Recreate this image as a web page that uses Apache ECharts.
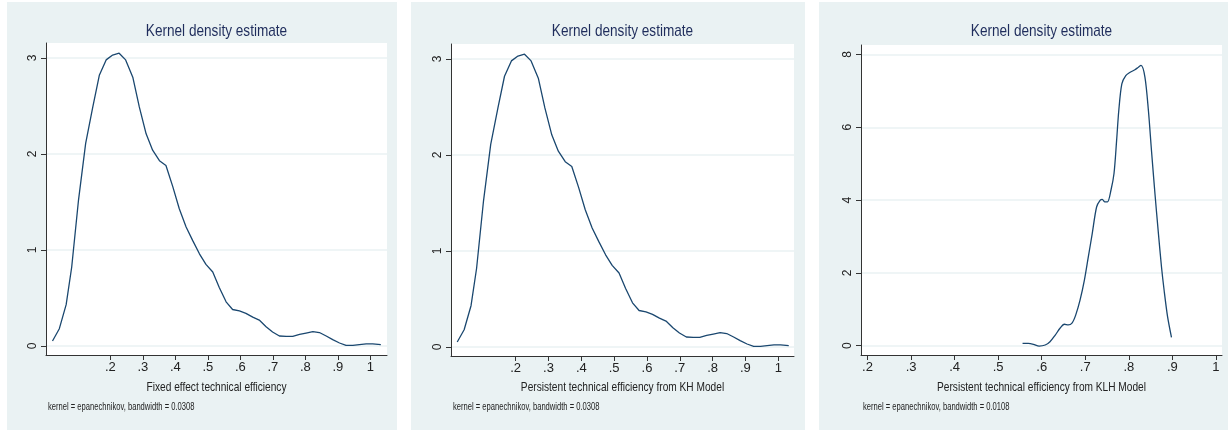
<!DOCTYPE html>
<html>
<head>
<meta charset="utf-8">
<script src="https://cdn.jsdelivr.net/npm/echarts@6/dist/echarts.min.js"></script>
<style>
html,body{margin:0;padding:0;background:#ffffff;}
#chart{width:1228px;height:431px;}
</style>
</head>
<body>
<div id="chart"></div>
<script>
// ---- data ----
const titles = ["Kernel density estimate", "Kernel density estimate", "Kernel density estimate"];
const xTitles = ["Fixed effect technical efficiency", "Persistent technical efficiency from KH Model", "Persistent technical efficiency from KLH Model"];
const notes = ["kernel = epanechnikov, bandwidth = 0.0308", "kernel = epanechnikov, bandwidth = 0.0308", "kernel = epanechnikov, bandwidth = 0.0108"];
const xTickValues = [0.2, 0.3, 0.4, 0.5, 0.6, 0.7, 0.8, 0.9, 1];
const yTicks12 = [0, 1, 2, 3];
const yTicks3 = [0, 2, 4, 6, 8];

const fixedEffect = [
  [0.022,0.052],[0.043,0.18],[0.064,0.43],[0.081,0.82],[0.102,1.52],[0.124,2.11],[0.146,2.49],
  [0.166,2.82],[0.187,2.98],[0.207,3.03],[0.227,3.05],[0.247,2.98],[0.269,2.80],[0.289,2.49],
  [0.310,2.21],[0.330,2.04],[0.351,1.93],[0.371,1.88],[0.392,1.66],[0.412,1.43],[0.433,1.24],
  [0.453,1.10],[0.474,0.96],[0.494,0.85],[0.515,0.77],[0.535,0.61],[0.556,0.46],[0.576,0.38],
  [0.597,0.365],[0.617,0.34],[0.638,0.30],[0.658,0.27],[0.679,0.20],[0.699,0.146],[0.720,0.104],
  [0.741,0.10],[0.761,0.10],[0.782,0.12],[0.802,0.135],[0.823,0.15],[0.843,0.14],[0.864,0.104],
  [0.884,0.066],[0.905,0.031],[0.925,0.007],[0.946,0.007],[0.966,0.014],[0.987,0.021],[1.007,0.021],[1.032,0.014]
];
const persistentKH = [
  [0.022,0.052],[0.043,0.18],[0.064,0.43],[0.081,0.82],[0.102,1.52],[0.124,2.11],[0.146,2.49],
  [0.166,2.82],[0.187,2.98],[0.207,3.03],[0.227,3.05],[0.247,2.98],[0.269,2.80],[0.289,2.49],
  [0.310,2.21],[0.330,2.04],[0.351,1.93],[0.371,1.88],[0.392,1.66],[0.412,1.43],[0.433,1.24],
  [0.453,1.10],[0.474,0.96],[0.494,0.85],[0.515,0.77],[0.535,0.61],[0.556,0.46],[0.576,0.38],
  [0.597,0.365],[0.617,0.34],[0.638,0.30],[0.658,0.27],[0.679,0.20],[0.699,0.146],[0.720,0.104],
  [0.741,0.10],[0.761,0.10],[0.782,0.12],[0.802,0.135],[0.823,0.15],[0.843,0.14],[0.864,0.104],
  [0.884,0.066],[0.905,0.031],[0.925,0.007],[0.946,0.007],[0.966,0.014],[0.987,0.021],[1.007,0.021],[1.032,0.014]
];
const persistentKLH = [
  [0.556,0.064],[0.569,0.064],[0.581,0.04],[0.594,-0.01],[0.608,0.02],[0.619,0.11],[0.631,0.29],
  [0.642,0.48],[0.652,0.59],[0.661,0.57],[0.670,0.63],[0.678,0.84],[0.688,1.25],[0.698,1.80],
  [0.707,2.44],[0.716,3.08],[0.726,3.81],[0.734,3.99],[0.739,4.02],[0.745,3.95],[0.751,3.95],
  [0.759,4.27],[0.766,4.73],[0.772,5.64],[0.777,6.46],[0.784,7.19],[0.793,7.42],[0.803,7.51],
  [0.814,7.58],[0.822,7.65],[0.828,7.70],[0.837,7.38],[0.845,6.46],[0.852,5.37],[0.860,4.18],
  [0.868,3.08],[0.875,2.17],[0.881,1.53],[0.889,0.80],[0.898,0.23]
];

// ---- layout ----
const FONT = "'Liberation Sans', Arial, sans-serif";
const panels = [
  {bg:[7,2,390,428], grid:{left:46,top:43,width:341,height:312}, x:[0.002,1.051], y:[-0.094,3.156], yt:yTicks12, data:fixedEffect, smooth:false},
  {bg:[411,2,394,428], grid:{left:451,top:44,width:343,height:312}, x:[0.003,1.048], y:[-0.094,3.156], yt:yTicks12, data:persistentKH, smooth:false},
  {bg:[819,2,409,428], grid:{left:861,top:45,width:361,height:310}, x:[0.185,1.014], y:[-0.255,8.26], yt:yTicks3, data:persistentKLH, smooth:0.3}
];

const fmtX = v => { const r = Math.round(v*10)/10; return r === 1 ? '1' : String(r).replace(/^0/, ''); };

const option = {
  animation:false,
  backgroundColor:'#ffffff',
  graphic: panels.map((p,i)=>{
    const cx = p.grid.left + p.grid.width/2;
    return [
      {type:'rect', z:-10, shape:{x:p.bg[0],y:p.bg[1],width:p.bg[2],height:p.bg[3]}, style:{fill:'#eaf2f3'}},
      {type:'rect', z:-9, shape:{x:p.grid.left,y:p.grid.top,width:p.grid.width,height:p.grid.height}, style:{fill:'#ffffff'}},
      {type:'text', z:5, x:cx, y:31, scaleX:0.8,
        style:{text:titles[i], font:"17px "+FONT, fill:'#1f2d5c', textAlign:'center', textVerticalAlign:'middle'}},
      {type:'text', z:5, x:cx, y:387, scaleX:0.78,
        style:{text:xTitles[i], font:"13px "+FONT, fill:'#222', textAlign:'center', textVerticalAlign:'middle'}},
      {type:'text', z:5, x:p.grid.left + 2, y:407, scaleX:0.76,
        style:{text:notes[i], font:"10px "+FONT, fill:'#222', textAlign:'left', textVerticalAlign:'middle'}}
    ];
  }).flat(),
  grid: panels.map(p=>Object.assign({containLabel:false}, p.grid)),
  xAxis: panels.map((p,i)=>({
    type:'value', gridIndex:i, min:p.x[0], max:p.x[1],
    axisLine:{show:true, onZero:false, lineStyle:{color:'#333', width:1}},
    axisTick:{show:true, length:5, customValues:xTickValues, lineStyle:{color:'#333'}},
    axisLabel:{customValues:xTickValues, formatter:fmtX, color:'#222', fontSize:13, fontFamily:FONT, margin:6},
    splitLine:{show:false}
  })),
  yAxis: panels.map((p,i)=>({
    type:'value', gridIndex:i, min:p.y[0], max:p.y[1],
    axisLine:{show:true, onZero:false, lineStyle:{color:'#333', width:1}},
    axisTick:{show:true, length:5, customValues:p.yt, lineStyle:{color:'#333'}},
    axisLabel:{customValues:p.yt, rotate:90, color:'#222', fontSize:12, fontFamily:FONT, margin:7},
    splitLine:{show:true, lineStyle:{color:'#eaf2f3', width:1.5}}
  })),
  series: panels.map((p,i)=>({
    type:'line', xAxisIndex:i, yAxisIndex:i, data:p.data, showSymbol:false, smooth:p.smooth,
    lineStyle:{color:'#1a476f', width:1.3}, z:3
  }))
};
echarts.init(document.getElementById('chart')).setOption(option);
</script>
</body>
</html>
